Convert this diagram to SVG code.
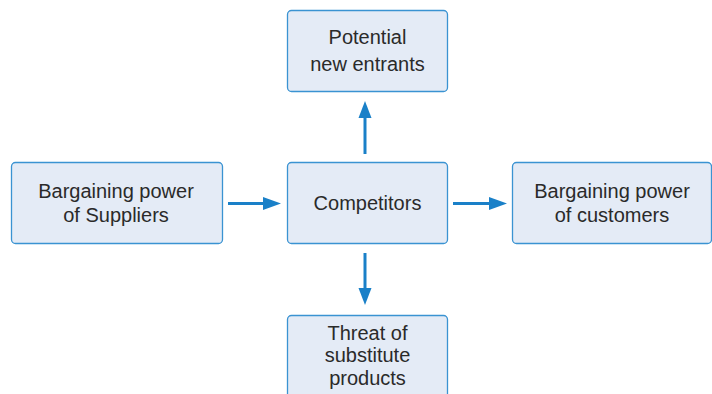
<svg xmlns="http://www.w3.org/2000/svg" width="712" height="394" viewBox="0 0 712 394">
<style>
.box{fill:#e4ebf6;stroke:#3a93d2;stroke-width:1.3}
.t{font-family:"Liberation Sans",Arial,sans-serif;font-size:20px;fill:#2a2a2a;text-anchor:middle}
.c{stroke:#1a80c8;stroke-width:3;fill:none}
.h{fill:#1a80c8}
</style>
<rect width="712" height="394" fill="#ffffff"/>
<g id="top">
<rect class="box" x="287.5" y="10.5" width="160" height="81" rx="4"/>
<text class="t" x="367.5" y="44">Potential</text>
<text class="t" x="367.5" y="70.5">new entrants</text>
</g>
<g id="left">
<rect class="box" x="11.5" y="162.5" width="211" height="81" rx="4"/>
<text class="t" x="116" y="197.5">Bargaining power</text>
<text class="t" x="116" y="222">of Suppliers</text>
</g>
<g id="center">
<rect class="box" x="287.5" y="162.5" width="160" height="81" rx="4"/>
<text class="t" x="367.5" y="210">Competitors</text>
</g>
<g id="right">
<rect class="box" x="512.5" y="162.5" width="199" height="81" rx="4"/>
<text class="t" x="612" y="197.5">Bargaining power</text>
<text class="t" x="612" y="222">of customers</text>
</g>
<g id="bottom">
<rect class="box" x="287.5" y="315.5" width="160" height="90" rx="4"/>
<text class="t" x="367.5" y="340">Threat of</text>
<text class="t" x="367.5" y="362">substitute</text>
<text class="t" x="367.5" y="385">products</text>
</g>
<g id="connectors">
<line class="c" x1="365" y1="154" x2="365" y2="117"/>
<polygon class="h" points="358.5,118 371.5,118 365,101"/>
<line class="c" x1="228" y1="203.5" x2="264" y2="203.5"/>
<polygon class="h" points="263,197 263,210 281,203.5"/>
<line class="c" x1="453" y1="203.5" x2="490" y2="203.5"/>
<polygon class="h" points="489,197 489,210 507,203.5"/>
<line class="c" x1="365" y1="253" x2="365" y2="289"/>
<polygon class="h" points="358.5,288 371.5,288 365,305"/>
</g>
</svg>
